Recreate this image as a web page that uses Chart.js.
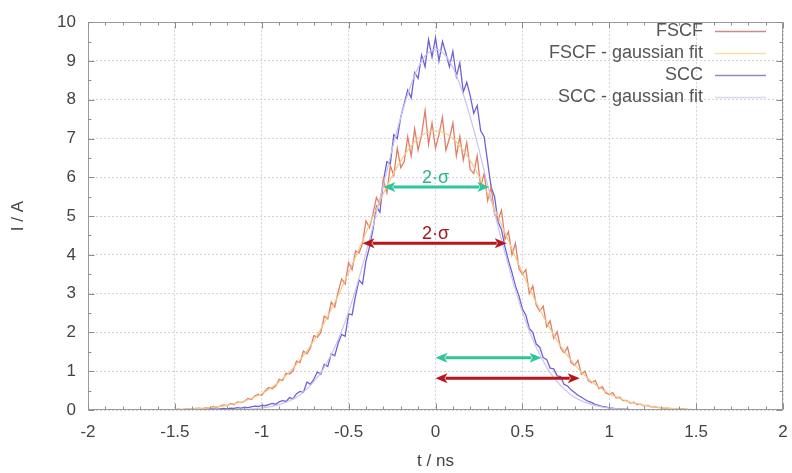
<!DOCTYPE html>
<html><head><meta charset="utf-8">
<script src="https://cdn.jsdelivr.net/npm/chart.js@4/dist/chart.umd.min.js"></script>
<style>html,body{margin:0;padding:0;background:#fff;}#wrap{width:792px;height:473px;}</style>
</head><body><div id="wrap"><canvas id="c" width="792" height="473"></canvas></div>
<script>
const tData = [-1.5,-1.48,-1.46,-1.44,-1.42,-1.4,-1.38,-1.36,-1.34,-1.32,
-1.3,-1.28,-1.26,-1.24,-1.22,-1.2,-1.18,-1.16,-1.14,-1.12,
-1.1,-1.08,-1.06,-1.04,-1.02,-1,-0.98,-0.96,-0.94,-0.92,
-0.9,-0.88,-0.86,-0.84,-0.82,-0.8,-0.78,-0.76,-0.74,-0.72,
-0.7,-0.68,-0.66,-0.64,-0.62,-0.6,-0.58,-0.56,-0.54,-0.52,
-0.5,-0.48,-0.46,-0.44,-0.42,-0.4,-0.38,-0.36,-0.34,-0.32,
-0.3,-0.28,-0.26,-0.24,-0.22,-0.2,-0.18,-0.16,-0.14,-0.12,
-0.1,-0.08,-0.06,-0.04,-0.02,
0,0.02,0.04,0.06,0.08,0.1,0.12,0.14,0.16,0.18,
0.2,0.22,0.24,0.26,0.28,0.3,0.32,0.34,0.36,0.38,
0.4,0.42,0.44,0.46,0.48,0.5,0.52,0.54,0.56,0.58,
0.6,0.62,0.64,0.66,0.68,0.7,0.72,0.74,0.76,0.78,
0.8,0.82,0.84,0.86,0.88,0.9,0.92,0.94,0.96,0.98,
1,1.02,1.04,1.06,1.08,1.1,1.12,1.14,1.16,1.18,
1.2,1.22,1.24,1.26,1.28,1.3,1.32,1.34,1.36,1.38,
1.4,1.42,1.44,1.46,1.48,1.5];

const fscf = [0.01,0.02,0.01,0.02,0.03,0.02,0.04,0.05,0.03,0.06,
0.05,0.09,0.07,0.10,0.13,0.11,0.16,0.14,0.21,0.19,
0.22,0.30,0.27,0.36,0.41,0.38,0.50,0.58,0.55,0.62,
0.79,0.76,0.95,0.93,1.01,1.26,1.22,1.52,1.45,1.60,
1.92,1.88,2.00,2.42,2.35,2.78,2.65,3.05,3.38,3.25,
3.80,3.62,4.10,4.05,4.30,4.88,4.70,5.05,5.48,5.30,
5.95,5.60,6.30,6.05,6.75,6.25,6.40,7.05,6.55,7.25,
6.70,7.10,7.72,6.85,7.40,
6.75,7.10,7.55,6.70,7.00,7.40,6.55,7.05,6.45,6.90,
6.20,6.10,6.55,5.75,6.10,5.40,5.75,5.05,4.90,5.15,
4.40,4.60,4.00,4.30,3.65,3.50,3.62,3.00,3.20,2.70,
2.55,2.68,2.15,2.30,1.85,2.02,1.60,1.48,1.62,1.22,
1.15,1.28,0.92,1.00,0.75,0.70,0.76,0.55,0.60,0.44,
0.40,0.45,0.31,0.33,0.24,0.25,0.18,0.20,0.14,0.15,
0.11,0.12,0.08,0.09,0.06,0.06,0.04,0.05,0.03,0.03,
0.02,0.03,0.02,0.01,0.01,0.01];

const scc = [0.00,0.01,0.00,0.01,0.01,0.00,0.01,0.02,0.01,0.02,
0.02,0.03,0.02,0.03,0.04,0.03,0.05,0.04,0.06,0.05,
0.07,0.06,0.08,0.10,0.09,
0.12,0.11,0.14,0.17,0.15,0.21,0.24,0.22,0.32,0.29,
0.42,0.48,0.45,0.72,0.66,0.80,0.98,0.92,1.18,1.12,
1.45,1.40,1.72,1.95,1.90,2.48,2.45,2.95,3.35,3.25,
3.85,4.20,4.65,5.25,5.10,5.90,6.40,6.35,7.10,7.00,
7.55,7.90,8.25,8.05,8.70,8.55,9.15,8.85,9.55,9.10,
9.60,9.00,9.50,9.20,8.85,9.25,8.60,8.95,8.20,8.45,
8.10,7.65,7.85,7.20,7.05,6.40,5.75,5.50,4.85,4.65,
4.20,3.85,3.55,3.20,2.95,2.60,2.45,2.10,2.00,1.70,
1.62,1.35,1.30,1.08,1.06,0.88,0.86,0.66,0.62,0.52,
0.45,0.38,0.33,0.27,0.22,0.19,0.14,0.12,0.09,0.08,
0.05,0.05,0.03,0.03,0.02,0.02,0.01,0.01,0.01,0.00,
0.01,0.00,0.00,0.01,0.00,0.00,0.00,0.01,0.00,0.00,
0.00,0.00,0.00,0.00,0.00,0.00];

const tFit = [-1.5,-1.45,-1.4,-1.35,-1.3,-1.25,-1.2,-1.15,-1.1,-1.05,
-1,-0.95,-0.9,-0.85,-0.8,-0.75,-0.7,-0.65,-0.6,-0.55,
-0.5,-0.45,-0.4,-0.35,-0.3,-0.25,-0.2,-0.15,-0.1,-0.05,
0,0.05,0.1,0.15,0.2,0.25,0.3,0.35,0.4,0.45,
0.5,0.55,0.6,0.65,0.7,0.75,0.8,0.85,0.9,0.95,
1,1.05,1.1,1.15,1.2,1.25,1.3,1.35,1.4,1.45,1.5];

const fscfFit = [0.012,0.019,0.028,0.041,0.060,0.086,0.12,0.17,0.23,0.32,
0.42,0.56,0.73,0.93,1.18,1.46,1.79,2.17,2.59,3.05,
3.54,4.05,4.57,5.09,5.58,6.03,6.43,6.75,7.00,7.15,
7.20,
7.15,7.00,6.75,6.43,6.03,5.58,5.09,4.57,4.05,3.54,
3.05,2.59,2.17,1.79,1.46,1.18,0.93,0.73,0.56,0.42,
0.32,0.23,0.17,0.12,0.086,0.060,0.041,0.028,0.019,0.012];

const sccFit = [0,0,0,0.001,0.002,0.003,0.005,0.010,0.017,0.030,
0.051,0.085,0.14,0.22,0.33,0.50,0.73,1.03,1.43,1.93,
2.53,3.25,4.05,4.91,5.80,6.72,7.55,8.27,8.83,9.18,
9.30,
9.18,8.83,8.27,7.55,6.72,5.80,4.91,4.05,3.25,2.53,
1.93,1.43,1.03,0.73,0.50,0.33,0.22,0.14,0.085,0.051,
0.030,0.017,0.010,0.005,0.003,0.002,0.001,0,0,0];

const seriesNames = ['FSCF','FSCF - gaussian fit','SCC','SCC - gaussian fit'];
const xTicks = [-2,-1.5,-1,-0.5,0,0.5,1,1.5,2];
const yTicks = [0,1,2,3,4,5,6,7,8,9,10];

// 2·σ markers: [y value, from t, to t]
const arrowY    = [5.75, 4.30, 1.35, 0.82];
const arrowFrom = [-0.30, -0.42, 0.00, 0.00];
const arrowTo   = [0.31, 0.41, 0.61, 0.83];
const sigmaLabel = '2·σ';
const sigmaLabelY = [5.98, 4.53];

const COLORS = ['#e27d66', '#f6c98a', '#6c62d6', '#c9c4ef'];
const ARROW_COLORS = ['#2cc79a', '#b8161c', '#2cc79a', '#b8161c'];
const FONT = '"Liberation Sans", Arial, sans-serif';

const pts = (xs, ys) => xs.map((v, i) => ({x: v, y: ys[i]}));

const overlay = {
  id: 'overlay',
  afterDraw(chart) {
    const {ctx, chartArea: ca, scales: {x, y}} = chart;
    ctx.save();
    ctx.strokeStyle = '#9a9a9a';
    ctx.lineWidth = 1;
    const L = Math.round(ca.left) + 0.5, T = Math.round(ca.top) + 0.5;
    const R = Math.round(ca.right) - 0.5, B = Math.round(ca.bottom) - 0.5;
    ctx.strokeRect(L, T, R - L, B - T);
    ctx.strokeStyle = '#8c8c8c';
    ctx.beginPath();
    for (let i = 0; i <= 40; i++) {
      const px = Math.round(x.getPixelForValue(-2 + i * 0.1)) + 0.5;
      const len = i % 5 === 0 ? 6 : 3;
      ctx.moveTo(px, B); ctx.lineTo(px, B - len);
      ctx.moveTo(px, T); ctx.lineTo(px, T + len);
    }
    for (let i = 0; i <= 20; i++) {
      const py = Math.round(y.getPixelForValue(i * 0.5)) + 0.5;
      const len = i % 2 === 0 ? 6 : 3;
      ctx.moveTo(L, py); ctx.lineTo(L + len, py);
      ctx.moveTo(R, py); ctx.lineTo(R - len, py);
    }
    ctx.stroke();

    const head = 12, hw = 5;
    arrowY.forEach((v, i) => {
      const py = y.getPixelForValue(v);
      const x1 = x.getPixelForValue(arrowFrom[i]);
      const x2 = x.getPixelForValue(arrowTo[i]);
      ctx.strokeStyle = ARROW_COLORS[i];
      ctx.fillStyle = ARROW_COLORS[i];
      ctx.lineWidth = 3;
      ctx.beginPath();
      ctx.moveTo(x1 + head - 2, py); ctx.lineTo(x2 - head + 2, py);
      ctx.stroke();
      ctx.beginPath();
      ctx.moveTo(x1, py); ctx.lineTo(x1 + head, py - hw); ctx.lineTo(x1 + head - 3, py); ctx.lineTo(x1 + head, py + hw); ctx.closePath();
      ctx.fill();
      ctx.beginPath();
      ctx.moveTo(x2, py); ctx.lineTo(x2 - head, py - hw); ctx.lineTo(x2 - head + 3, py); ctx.lineTo(x2 - head, py + hw); ctx.closePath();
      ctx.fill();
    });
    ctx.font = '18px ' + FONT;
    ctx.textAlign = 'center';
    ctx.textBaseline = 'middle';
    sigmaLabelY.forEach((v, i) => {
      ctx.fillStyle = i === 0 ? '#27b790' : '#a8151a';
      ctx.fillText(sigmaLabel, x.getPixelForValue(0), y.getPixelForValue(v));
    });

    ctx.font = '18px ' + FONT;
    ctx.textAlign = 'right';
    ctx.textBaseline = 'middle';
    const legColors = ['#c98a90', '#f1e0a8', '#8e8bc4', '#d9d6ee'];
    seriesNames.forEach((name, i) => {
      const ly = 31 + i * 22;
      ctx.fillStyle = '#555';
      ctx.fillText(name, 703, ly);
      ctx.strokeStyle = legColors[i];
      ctx.lineWidth = 1.5;
      ctx.beginPath();
      ctx.moveTo(715, ly + 0.5); ctx.lineTo(766, ly + 0.5);
      ctx.stroke();
    });
    ctx.restore();
  }
};

new Chart(document.getElementById('c'), {
  type: 'line',
  data: {
    datasets: [
      {label: seriesNames[1], data: pts(tFit, fscfFit), borderColor: COLORS[1], borderWidth: 1.2, pointRadius: 0, tension: 0.4, fill: false},
      {label: seriesNames[3], data: pts(tFit, sccFit), borderColor: COLORS[3], borderWidth: 1.2, pointRadius: 0, tension: 0.4, fill: false},
      {label: seriesNames[0], data: pts(tData, fscf), borderColor: COLORS[0], borderWidth: 1.3, pointRadius: 0, tension: 0, fill: false},
      {label: seriesNames[2], data: pts(tData, scc), borderColor: COLORS[2], borderWidth: 1.3, pointRadius: 0, tension: 0, fill: false}
    ]
  },
  options: {
    responsive: false,
    animation: false,
    layout: {padding: {top: 17, right: 9, bottom: 0, left: 0}},
    plugins: {legend: {display: false}, tooltip: {enabled: false}},
    scales: {
      x: {
        type: 'linear', min: -2, max: 2,
        afterBuildTicks: s => { s.ticks = xTicks.map(v => ({value: v})); },
        afterFit: s => { s.height = 63; s.paddingLeft = 0; s.paddingRight = 0; },
        grid: {color: '#d4d4d4', drawTicks: false, lineWidth: 1},
        border: {display: false, dash: [2, 2]},
        ticks: {color: '#444', padding: 12, font: {family: FONT, size: 17}, maxRotation: 0, callback: v => String(v)},
        title: {display: true, text: 't / ns', color: '#444', font: {family: FONT, size: 17}, padding: {top: 0, bottom: 1}}
      },
      y: {
        type: 'linear', min: 0, max: 10,
        afterBuildTicks: s => { s.ticks = yTicks.map(v => ({value: v})); },
        afterFit: s => { s.width = 88; },
        grid: {color: '#d4d4d4', drawTicks: false, lineWidth: 1},
        border: {display: false, dash: [2, 2]},
        ticks: {color: '#444', padding: 12, font: {family: FONT, size: 17}, callback: v => String(v)},
        title: {display: true, text: 'I / A', color: '#444', font: {family: FONT, size: 17}, padding: {top: 8, bottom: 0}}
      }
    }
  },
  plugins: [overlay]
});
</script>
</body></html>
